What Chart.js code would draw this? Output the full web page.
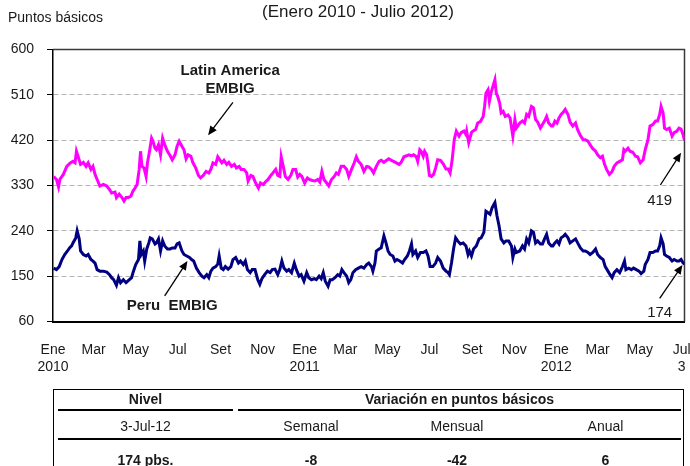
<!DOCTYPE html>
<html>
<head>
<meta charset="utf-8">
<script src="https://cdn.jsdelivr.net/npm/chart.js@4.4.1/dist/chart.umd.min.js"></script>
<style>
  html, body { margin: 0; padding: 0; background: #fff; }
  #wrap { position: relative; width: 690px; height: 466px; overflow: hidden; font-family: "Liberation Sans", Arial, sans-serif; color: #1a1a1a; }
  canvas { position: absolute; left: 0; top: 0; }
  #tbl { position: absolute; left: 53px; top: 389px; width: 631px; height: 90px; border: 1.5px solid #000; box-sizing: border-box; }
  .cell { position: absolute; text-align: center; font-size: 14px; line-height: 16px; }
  .b { font-weight: bold; }
  .rule { position: absolute; height: 0; border-top: 2px solid #000; }
</style>
</head>
<body>
<div id="wrap">
  <canvas id="c" width="690" height="466"></canvas>
  <div id="tbl"></div>
</div>
<script>
// ---------- DATA ----------
// days since 1 Jan 2010
const latamDays = [1,5,8,10,15,20,25,29,32,34,37,40,44,48,51,55,58,61,64,68,73,78,82,85,90,92,96,100,103,106,109,113,116,119,122,125,127,129,132,135,137,140,143,145,148,150,153,156,159,162,166,170,173,177,180,183,187,190,193,196,200,203,207,211,214,218,222,
226,229,232,236,239,242,245,248,252,255,259,263,266,270,273,277,281,283,287,290,294,298,301,305,308,312,316,319,323,326,329,331,334,337,341,345,348,352,355,358,361,365,369,372,376,380,384,387,390,393,397,400,404,408,411,414,418,422,426,429,433,437,440,443,
447,451,455,458,462,465,469,473,476,480,484,487,491,494,498,502,505,509,513,516,520,523,527,529,532,534,537,539,542,544,546,549,552,555,558,562,566,570,573,576,579,582,585,589,592,596,599,600,603,607,609,613,616,620,624,626,628,631,633,636,638,641,643,645,648,650,653,656,660,663,667,670,672,
677,681,684,687,690,694,697,700,703,707,710,713,716,719,723,725,728,731,734,737,741,743,747,750,754,758,761,765,769,772,776,779,783,787,790,794,797,800,803,807,811,814,818,822,826,828,830,834,837,841,845,848,852,856,859,863,866,870,874,877,880,882,885,887,890,894,898,901,905,908,911,914,916];
const latamBps = [348,342,327,342,352,368,375,378,375,398,385,372,376,368,375,362,368,352,342,329,332,329,322,315,317,306,313,306,299,306,306,309,319,325,332,362,398,368,365,348,375,398,424,418,404,401,411,391,424,411,398,389,381,391,408,418,408,401,383,391,388,375,365,350,345,350,358,
355,362,375,372,387,381,375,380,372,376,368,372,365,368,362,362,355,339,350,348,335,325,335,332,337,342,350,355,362,350,348,387,368,348,342,350,362,362,347,352,348,335,345,342,340,339,342,337,358,342,335,329,342,348,355,352,368,368,362,348,362,375,387,378,
372,358,368,367,362,355,368,378,380,376,380,383,380,378,375,372,376,387,389,391,389,391,387,378,401,398,388,398,391,372,350,348,352,365,381,380,373,363,363,355,381,421,438,428,435,438,431,438,415,435,438,441,454,457,467,487,513,520,497,517,526,540,513,507,493,474,477,467,470,464,428,461,444,
454,458,454,471,467,487,484,461,456,444,451,458,467,454,448,448,458,454,464,471,477,481,471,456,448,454,441,429,421,421,418,411,403,398,391,385,388,372,362,352,358,368,375,378,381,401,398,404,398,396,388,387,375,381,401,421,448,451,458,458,471,487,474,444,441,444,428,435,438,444,442,431,419];

const peruDays = [1,5,9,13,17,21,24,27,29,33,35,38,40,44,48,51,55,58,61,64,68,73,78,82,85,88,92,95,98,102,106,110,114,116,120,124,126,128,131,133,136,139,141,144,148,150,153,156,159,162,166,170,173,177,180,183,187,190,194,198,201,204,208,212,216,219,
223,226,229,232,236,239,241,244,247,250,254,258,261,265,269,272,276,279,282,286,289,293,297,300,303,307,311,315,318,322,326,329,332,335,339,342,346,350,353,357,360,364,368,371,375,379,382,386,389,392,395,399,402,405,409,413,416,419,422,426,429,432,435,439,443,
447,451,455,458,462,464,467,469,473,476,480,483,486,489,493,496,499,503,507,510,514,517,520,522,526,529,533,537,541,544,547,551,555,558,562,566,570,573,575,578,581,584,587,591,595,599,602,604,607,610,614,618,621,625,628,631,634,637,641,644,647,650,654,657,661,665,667,670,672,
677,681,684,687,690,694,697,700,703,707,710,713,716,719,723,725,728,731,734,737,741,743,747,750,754,758,761,765,769,772,776,779,783,787,790,794,798,801,805,808,811,814,818,822,826,829,831,835,839,842,846,850,853,857,859,863,866,870,874,877,880,882,885,887,890,894,898,901,905,908,911,914,916];
const peruBps = [166,163,169,183,193,200,206,210,216,226,240,224,200,193,190,193,183,180,176,163,160,160,158,153,147,143,132,147,137,143,137,142,147,157,173,183,220,193,200,180,204,216,226,224,214,216,224,200,220,210,204,204,206,206,214,216,200,193,190,187,183,180,166,157,150,147,
153,147,160,166,169,174,190,166,163,169,164,169,183,187,176,180,173,180,163,157,163,163,143,134,145,153,160,157,163,164,153,163,180,166,160,163,157,176,163,150,153,140,157,147,143,145,143,150,145,157,140,130,143,143,147,153,150,163,157,150,137,143,157,163,166,
169,166,173,176,169,160,176,200,204,206,230,216,200,193,190,180,183,180,176,183,190,200,214,193,200,187,197,197,200,190,169,169,176,187,180,166,160,157,153,176,204,226,220,214,216,210,193,200,190,204,210,224,226,237,279,276,273,286,296,270,250,224,216,220,220,210,187,204,197,
200,210,204,224,216,240,237,216,220,214,214,224,233,216,210,210,216,220,214,226,230,233,226,216,220,224,216,206,200,200,197,193,197,204,193,187,183,169,160,153,147,157,163,157,169,180,163,166,163,166,163,160,155,160,173,183,197,197,200,200,210,226,214,193,190,187,180,183,180,180,183,176,174];

const tickDates = ['2010-01-01','2010-03-01','2010-05-01','2010-07-01','2010-09-01','2010-11-01','2011-01-01','2011-03-01','2011-05-01','2011-07-01','2011-09-01','2011-11-01','2012-01-01','2012-03-01','2012-05-01','2012-07-01'];
const tickLabels = [['Ene','2010'],'Mar','May','Jul','Set','Nov',['Ene','2011'],'Mar','May','Jul','Set','Nov',['Ene','2012'],'Mar','May',['Jul','3']];
const yTicks = [60,150,240,330,420,510,600];

const titleText = '(Enero 2010 - Julio 2012)';
const unitText = 'Puntos básicos';
const latamName = ['Latin America','EMBIG'];
const peruName = 'Peru  EMBIG';
const lastLatam = '419';
const lastPeru = '174';

const tableHead = ['Nivel','Variación en puntos básicos'];
const tableSub = ['3-Jul-12','Semanal','Mensual','Anual'];
const tableVals = ['174 pbs.','-8','-42','6'];

// ---------- build ----------
const dayOf = s => Math.round((Date.UTC(+s.slice(0,4), +s.slice(5,7)-1, +s.slice(8,10)) - Date.UTC(2010,0,1)) / 86400000);
const tickDays = tickDates.map(dayOf);
const pts = (d, v) => d.map((x, i) => ({x: x, y: v[i]}));

const FONT = '"Liberation Sans", Arial, sans-serif';

const decor = {
  id: 'decor',
  beforeDatasetsDraw(chart) {
    const {ctx, chartArea: a} = chart;
    ctx.save();
    ctx.strokeStyle = '#3a3a3a';
    ctx.lineWidth = 1.5;
    ctx.beginPath();
    ctx.moveTo(a.left, a.top); ctx.lineTo(a.right, a.top); ctx.lineTo(a.right, a.bottom);
    ctx.stroke();
    ctx.restore();
  },
  afterDraw(chart) {
    const {ctx} = chart;
    const xs = chart.scales.x, ys = chart.scales.y;
    const P = (d, v) => [xs.getPixelForValue(d), ys.getPixelForValue(v)];
    ctx.save();
    ctx.fillStyle = '#1a1a1a';
    ctx.textAlign = 'center'; ctx.textBaseline = 'middle';
    ctx.font = '17px ' + FONT;
    ctx.fillText(titleText, 358, 12);
    ctx.textAlign = 'left';
    ctx.font = '14px ' + FONT;
    ctx.fillText(unitText, 8, 18);

    ctx.textAlign = 'center';
    ctx.font = 'bold 15px ' + FONT;
    let p = P(257, 557); ctx.fillText(latamName[0], p[0], p[1]);
    p = P(257, 521); ctx.fillText(latamName[1], p[0], p[1]);
    p = P(173, 91); ctx.fillText(peruName, p[0], p[1]);
    ctx.font = '15px ' + FONT;
    p = P(880, 300); ctx.fillText(lastLatam, p[0], p[1]);
    p = P(880, 78); ctx.fillText(lastPeru, p[0], p[1]);

    const arrow = (d0, v0, d1, v1) => {
      const [x0, y0] = P(d0, v0), [x1, y1] = P(d1, v1);
      const ang = Math.atan2(y1 - y0, x1 - x0), L = 9, W = 4;
      ctx.strokeStyle = '#000'; ctx.fillStyle = '#000'; ctx.lineWidth = 1.3;
      ctx.beginPath(); ctx.moveTo(x0, y0);
      ctx.lineTo(x1 - Math.cos(ang) * L * 0.8, y1 - Math.sin(ang) * L * 0.8); ctx.stroke();
      ctx.beginPath(); ctx.moveTo(x1, y1);
      ctx.lineTo(x1 - L * Math.cos(ang) + W * Math.sin(ang), y1 - L * Math.sin(ang) - W * Math.cos(ang));
      ctx.lineTo(x1 - L * Math.cos(ang) - W * Math.sin(ang), y1 - L * Math.sin(ang) + W * Math.cos(ang));
      ctx.closePath(); ctx.fill();
    };
    arrow(261, 495, 225, 430);
    arrow(162, 111, 195, 180);
    arrow(881, 331, 911, 395);
    arrow(880, 106, 913, 172);
    ctx.restore();
  }
};

new Chart(document.getElementById('c'), {
  type: 'line',
  data: {
    datasets: [
      { label: 'Latin America EMBIG', data: pts(latamDays, latamBps), borderColor: '#ff00ff', borderWidth: 3, pointRadius: 0, tension: 0 },
      { label: 'Peru EMBIG', data: pts(peruDays, peruBps), borderColor: '#000080', borderWidth: 3, pointRadius: 0, tension: 0 }
    ]
  },
  options: {
    responsive: false,
    animation: false,
    events: [],
    layout: { padding: { left: 0, top: 49.5, right: 5.5, bottom: 94.5 } },
    plugins: { legend: { display: false }, tooltip: { enabled: false } },
    scales: {
      x: {
        type: 'linear', min: 0, max: 916,
        afterFit(s) { s.height = 50; s.paddingLeft = 0; s.paddingRight = 0; },
        afterBuildTicks(s) { s.ticks = tickDays.map(v => ({value: v})); },
        grid: { display: false, drawTicks: false },
        border: { display: true, color: '#000', width: 2 },
        ticks: {
          autoSkip: false, maxRotation: 0, padding: 20, color: '#1a1a1a',
          font: { family: FONT, size: 14 },
          callback: (v, i) => tickLabels[i]
        }
      },
      y: {
        min: 60, max: 600,
        afterFit(s) { s.width = 53; s.paddingTop = 0; s.paddingBottom = 0; },
        afterBuildTicks(s) { s.ticks = yTicks.map(v => ({value: v})); },
        grid: {
          color: ctx => (ctx.tick && (ctx.tick.value === 600 || ctx.tick.value === 60)) ? 'rgba(0,0,0,0)' : '#b4b4b4',
          lineWidth: 1, drawTicks: true, tickLength: 6, tickColor: '#000', tickWidth: 1
        },
        border: { display: true, color: '#000', width: 1.5, dash: [5, 3] },
        ticks: { padding: 13, color: '#1a1a1a', font: { family: FONT, size: 14 } }
      }
    }
  },
  plugins: [decor]
});

// ---------- table ----------
const tbl = document.getElementById('tbl');
const add = (cls, txt, left, top, width) => {
  const d = document.createElement('div');
  d.className = cls; d.textContent = txt;
  d.style.left = left + 'px'; d.style.top = top + 'px'; d.style.width = width + 'px';
  tbl.appendChild(d);
};
const rule = (left, top, width) => {
  const d = document.createElement('div');
  d.className = 'rule'; d.style.left = left + 'px'; d.style.top = top + 'px'; d.style.width = width + 'px';
  tbl.appendChild(d);
};
add('cell b', tableHead[0], 4, 1, 175);
add('cell b', tableHead[1], 184, 1, 443);
rule(4, 19, 175); rule(184, 19, 443);
add('cell', tableSub[0], 4, 28, 175);
add('cell', tableSub[1], 184, 28, 146);
add('cell', tableSub[2], 330, 28, 146);
add('cell', tableSub[3], 476, 28, 151);
rule(4, 48, 623);
add('cell b', tableVals[0], 4, 62, 175);
add('cell b', tableVals[1], 184, 62, 146);
add('cell b', tableVals[2], 330, 62, 146);
add('cell b', tableVals[3], 476, 62, 151);
</script>
</body>
</html>
